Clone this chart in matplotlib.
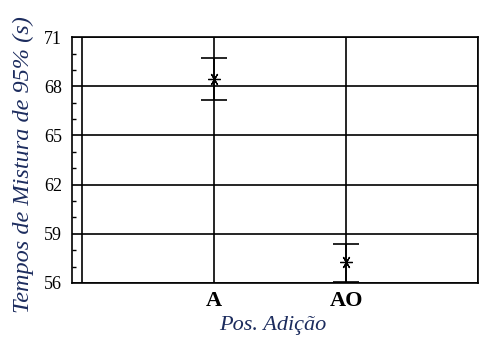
import numpy as np
import matplotlib.pyplot as plt
from matplotlib.ticker import MultipleLocator

# data
categories = ["A", "AO"]
cat_pos = [1, 2]
means = [68.45, 57.25]
err_lo = [1.30, 1.18]
err_hi = [1.30, 1.15]
yticks = [56, 59, 62, 65, 68, 71]

NAVY = "#1c2c5e"
SERIF = ["Liberation Serif", "DejaVu Serif"]

fig = plt.figure(figsize=(4.82, 3.38), dpi=100)
ax = fig.add_axes([0.149, 0.163, 0.843, 0.727])

# grid: horizontal at major y ticks, vertical at category slots 0..3
for y in yticks:
    ax.axhline(y, color="black", lw=1.2, zorder=1)
for x in range(4):
    ax.axvline(x, color="black", lw=1.2, zorder=1)

ax.errorbar(cat_pos, means, yerr=[err_lo, err_hi], fmt="none",
            ecolor="black", elinewidth=1.2, capsize=9.5, capthick=1.2, zorder=3)
ax.plot(cat_pos, means, linestyle="none", marker=(6, 2, 90), markersize=9,
        color="black", mew=0.9, zorder=4)

ax.set_xlim(-0.076, 3)
ax.set_ylim(56, 71)
ax.set_xticks(cat_pos)
ax.set_xticklabels(categories, family=SERIF, fontweight="bold", fontsize=16)
ax.set_yticks(yticks)
ax.set_yticklabels([str(v) for v in yticks], family=SERIF, fontsize=13)
ax.yaxis.set_minor_locator(MultipleLocator(1))
ax.tick_params(axis="y", which="minor", direction="in", length=3, width=1)
ax.tick_params(axis="y", which="major", direction="in", length=0, pad=7)
ax.tick_params(axis="x", length=0, pad=6)
for s in ax.spines.values():
    s.set_linewidth(1.2)

ax.set_ylabel("Tempos de Mistura de 95% (s)", family=SERIF, style="italic",
              fontsize=17.5, color=NAVY)
ax.yaxis.set_label_coords(-0.094, 0.48)
ax.set_xlabel("Pos. Adição", family=SERIF, style="italic", fontsize=16,
              color=NAVY)
ax.xaxis.set_label_coords(0.495, -0.135)

fig.savefig("out.png", dpi=100)
